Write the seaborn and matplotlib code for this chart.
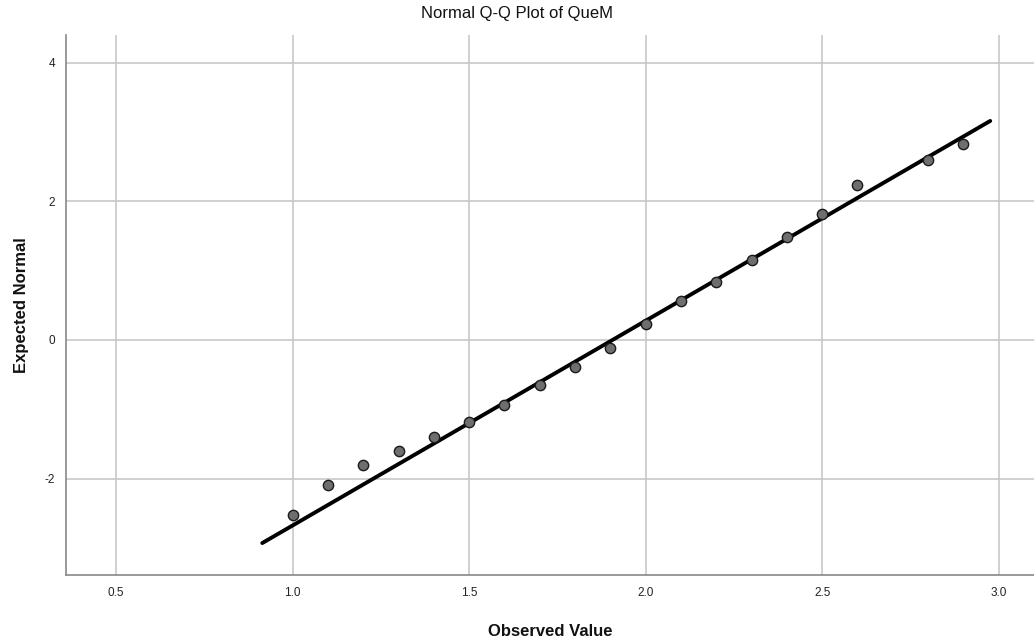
import matplotlib
matplotlib.use("Agg")
import matplotlib.pyplot as plt
import seaborn as sns
import numpy as np
import pandas as pd

# Data
observed = [1.0, 1.1, 1.2, 1.3, 1.4, 1.5, 1.6, 1.7, 1.8, 1.9,
            2.0, 2.1, 2.2, 2.3, 2.4, 2.5, 2.6, 2.8, 2.9]
expected = [-2.52, -2.09, -1.80, -1.60, -1.40, -1.18, -0.94, -0.65, -0.39, -0.115,
            0.23, 0.56, 0.84, 1.15, 1.49, 1.82, 2.24, 2.60, 2.83]
line_x = [0.914, 2.976]
line_mean = 1.906
line_sd = 0.3386
x_ticks = [0.5, 1.0, 1.5, 2.0, 2.5, 3.0]
y_ticks = [-2, 0, 2, 4]

sns.set_theme(style="whitegrid")
plt.rcParams['font.family'] = ['Liberation Sans', 'DejaVu Sans']

df = pd.DataFrame({"Observed Value": observed, "Expected Normal": expected})
line_df = pd.DataFrame({"x": line_x,
                        "y": [(v - line_mean) / line_sd for v in line_x]})

fig = plt.figure(figsize=(10.34, 6.42), dpi=100)
ax = fig.add_axes([0.0638, 0.1044, 0.9362, 0.8411])

sns.lineplot(data=line_df, x="x", y="y", ax=ax, color="black", linewidth=2.8, zorder=2)
sns.scatterplot(data=df, x="Observed Value", y="Expected Normal", ax=ax,
                s=55, color="#6e6e6e", edgecolor="#1a1a1a", linewidth=1.0, zorder=3)

ax.set_xlim(0.358, 3.10)
ax.set_ylim(-3.39, 4.40)
ax.set_xticks(x_ticks)
ax.set_xticklabels([f"{v:.1f}" for v in x_ticks])
ax.set_yticks(y_ticks)
ax.set_yticklabels([str(v) for v in y_ticks])

ax.grid(True, color="#c8c8c8", linewidth=1.2)
ax.set_axisbelow(True)
for side in ["top", "right"]:
    ax.spines[side].set_visible(False)
for side in ["left", "bottom"]:
    ax.spines[side].set_visible(True)
    ax.spines[side].set_color("#888888")
    ax.spines[side].set_linewidth(1.2)

ax.tick_params(axis="both", labelsize=8.5, colors="#222222", length=0)
ax.tick_params(axis="x", pad=8.5)
ax.tick_params(axis="y", pad=8)

ax.set_xlabel("Observed Value", fontsize=12, fontweight="bold", labelpad=18, color="#111111")
ax.set_ylabel("Expected Normal", fontsize=12, fontweight="bold", labelpad=11.5, color="#111111")
fig.text(0.5, 0.979, "Normal Q-Q Plot of QueM", ha="center", va="center",
         fontsize=12, color="#111111")

fig.savefig("out.png", dpi=100)
